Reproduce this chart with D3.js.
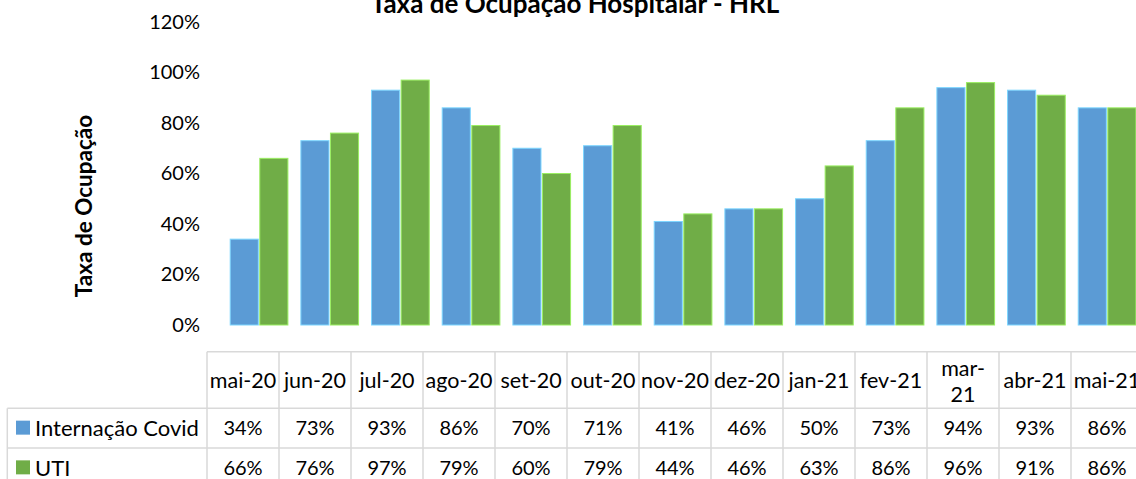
<!DOCTYPE html>
<html>
  <head>
    <meta charset="utf-8">
    <script type="text/javascript" src="https://cdn.jsdelivr.net/npm/d3@7"></script>
    <style>
      body { margin: 0; background: #fff; }
      text { font-family: Lato, "Open Sans", sans-serif; fill: #000; }
    </style>
  </head>
  <body>
    <div id="viz"></div>
    <script type="text/javascript">
      const months = ["mai-20", "jun-20", "jul-20", "ago-20", "set-20", "out-20", "nov-20",
                      "dez-20", "jan-21", "fev-21", "mar-21", "abr-21", "mai-21"];
      const wrappedMonths = ["mar-21"];
      const seriesNames = ["Internação Covid", "UTI"];
      const internacao = [0.34, 0.73, 0.93, 0.86, 0.70, 0.71, 0.41, 0.46, 0.50, 0.73, 0.94, 0.93, 0.86];
      const uti = [0.66, 0.76, 0.97, 0.79, 0.60, 0.79, 0.44, 0.46, 0.63, 0.86, 0.96, 0.91, 0.86];
      const yTicks = [0, 0.2, 0.4, 0.6, 0.8, 1.0, 1.2];
      const colors = ["#5b9bd5", "#70ad47"];

      const width = 1136;
      const height = 479;
      const numSize = 20;   // digits
      const wordSize = 22;  // words (Lato is narrower than Calibri for letters)

      const svg = d3.select("#viz")
        .append("svg")
        .attr("width", width)
        .attr("height", height);

      const rows = months.map((m, i) => ({ month: m, values: [internacao[i], uti[i]] }));

      // plot scales
      const y = d3.scaleLinear().domain([0, 1.2]).range([325, 22]);
      const x = d3.scaleBand().domain(months).range([223.7, 1142.4]);
      const x1 = d3.scaleBand().domain(seriesNames).range([6.5, 64.2]).paddingInner(0.05);
      const fmt = d3.format(".0%");

      // title (cut off at top, like the original)
      svg.append("text")
        .attr("x", 575)
        .attr("y", 13)
        .attr("text-anchor", "middle")
        .style("font-weight", "bold")
        .style("font-size", "26px")
        .text("Taxa de Ocupação Hospitalar - HRL");

      // y axis title
      svg.append("text")
        .attr("transform", "translate(92,206) rotate(-90)")
        .attr("text-anchor", "middle")
        .style("font-weight", "bold")
        .style("font-size", "22.5px")
        .text("Taxa de Ocupação");

      // y axis labels
      const yAxis = svg.append("g")
        .attr("transform", "translate(200,0)")
        .call(d3.axisLeft(y).tickValues(yTicks).tickFormat(fmt).tickSize(0).tickPadding(0));
      yAxis.select(".domain").remove();
      yAxis.selectAll("text")
        .style("font-family", "Lato, sans-serif")
        .style("font-size", numSize + "px")
        .attr("fill", "#000");

      // bars
      const groups = svg.selectAll("g.month")
        .data(rows)
        .enter()
        .append("g")
        .attr("class", "month")
        .attr("transform", d => "translate(" + x(d.month) + ",0)");

      groups.selectAll("rect")
        .data(d => d.values.map((v, k) => ({ key: seriesNames[k], value: v, k: k })))
        .enter()
        .append("rect")
        .attr("x", d => x1(d.key))
        .attr("y", d => y(d.value))
        .attr("width", x1.bandwidth())
        .attr("height", d => y(0) - y(d.value))
        .style("fill", d => colors[d.k])
        .style("stroke", d => d3.color(colors[d.k]).brighter(0.9))
        .style("stroke-width", 1);

      // data table
      const tx = d3.scaleBand().domain(months).range([207, 207 + 13 * 72]);
      const rowY = [351.7, 408.3, 448, 487.7];
      const lineColor = "#d9d9d9";
      const table = svg.append("g").attr("class", "table");

      // horizontal lines
      table.append("line")
        .attr("x1", tx.range()[0]).attr("x2", width)
        .attr("y1", rowY[0]).attr("y2", rowY[0]);
      [rowY[1], rowY[2]].forEach(yy => {
        table.append("line")
          .attr("x1", 7.3).attr("x2", width)
          .attr("y1", yy).attr("y2", yy);
      });
      // vertical lines
      table.append("line")
        .attr("x1", 7.3).attr("x2", 7.3)
        .attr("y1", rowY[1]).attr("y2", height);
      months.forEach(m => {
        table.append("line")
          .attr("x1", tx(m)).attr("x2", tx(m))
          .attr("y1", rowY[0]).attr("y2", height);
      });
      table.selectAll("line")
        .style("stroke", lineColor)
        .style("stroke-width", 1.5);

      // header labels
      const headMid = (rowY[0] + rowY[1]) / 2;
      const header = table.selectAll("text.head")
        .data(months)
        .enter()
        .append("text")
        .attr("class", "head")
        .attr("text-anchor", "middle")
        .style("font-size", "21.5px")
        .attr("x", d => tx(d) + tx.bandwidth() / 2)
        .attr("y", headMid)
        .attr("dy", "0.35em")
        .text(d => d);

      // labels too wide for their column go on two lines
      header.filter(d => wrappedMonths.includes(d)).each(function(d) {
        const t = d3.select(this);
        const parts = d.split("-");
        const cx = tx(d) + tx.bandwidth() / 2;
        t.text(null).attr("dy", null);
        t.append("tspan").attr("x", cx).attr("y", headMid - 12).attr("dy", "0.35em").text(parts[0] + "-");
        t.append("tspan").attr("x", cx).attr("y", headMid + 14).attr("dy", "0.35em").text(parts[1]);
      });

      // value rows with legend keys
      [internacao, uti].forEach((vals, k) => {
        const cy = (rowY[k + 1] + rowY[k + 2]) / 2;
        table.append("rect")
          .attr("x", 16).attr("y", cy - 7.5)
          .attr("width", 14).attr("height", 14)
          .style("fill", colors[k]);
        table.append("text")
          .attr("x", 35).attr("y", cy).attr("dy", "0.35em")
          .style("font-size", wordSize + "px")
          .text(seriesNames[k]);
        table.selectAll("text.v" + k)
          .data(vals)
          .enter()
          .append("text")
          .attr("class", "v" + k)
          .attr("text-anchor", "middle")
          .style("font-size", numSize + "px")
          .attr("x", (d, i) => tx(months[i]) + tx.bandwidth() / 2)
          .attr("y", cy)
          .attr("dy", "0.35em")
          .text(d => fmt(d));
      });
    </script>
  </body>
</html>
